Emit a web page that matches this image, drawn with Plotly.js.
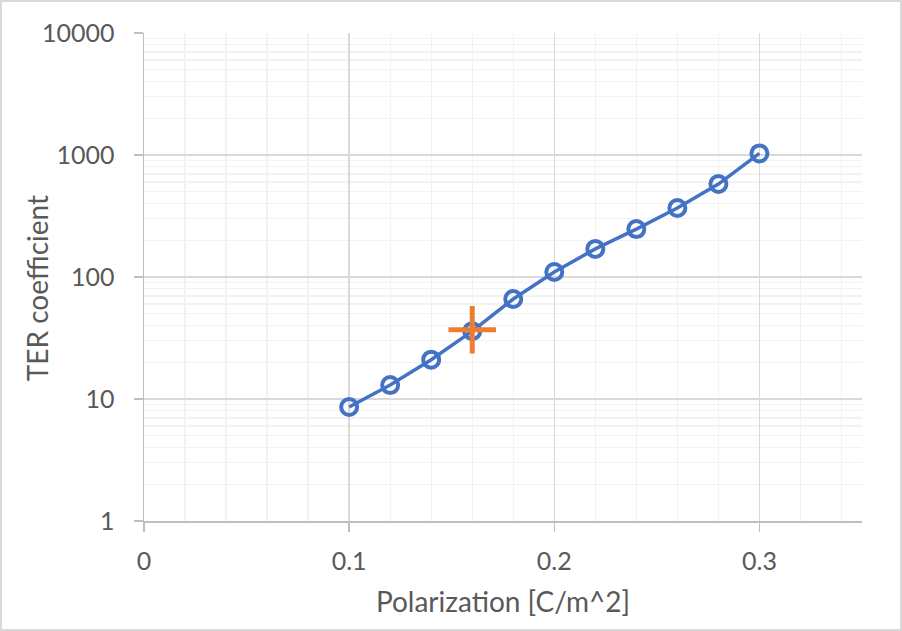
<!DOCTYPE html>
<html>
<head>
<meta charset="utf-8">
<script src="https://cdn.plot.ly/plotly-3.0.1.min.js"></script>
<style>
  html, body { margin: 0; padding: 0; background: #fff; }
  #chart { width: 902px; height: 631px; box-sizing: border-box; border: 2px solid #d9d9d9; }
</style>
</head>
<body>
<div id="chart"></div>
<script>
// TER coefficient vs polarization
const polarization = [0.10, 0.12, 0.14, 0.16, 0.18, 0.20, 0.22, 0.24, 0.26, 0.28, 0.30];
const terCoefficient = [8.6, 13.0, 21, 36, 66, 110, 170, 247, 368, 578, 1030];

// highlighted point (orange plus)
const markX = [0.16];
const markY = [37];

const yTickVals = [1, 10, 100, 1000, 10000];
const yTickText = ['1', '10', '100', '1000', '10000'];

const textColor = '#595959';
const font = 'Lato, "Open Sans", sans-serif';

const traces = [
    {
        x: polarization, y: terCoefficient,
        mode: 'lines+markers',
        line: {color: '#4472C4', width: 3.5},
        marker: {symbol: 'circle-open', size: 16, color: '#4472C4', line: {width: 4, color: '#4472C4'}},
        showlegend: false
    },
    {
        x: markX, y: markY,
        mode: 'markers',
        marker: {symbol: 'cross-thin-open', size: 34, color: '#ED7D31', line: {width: 5, color: '#ED7D31'}},
        showlegend: false
    }
];

const layout = {
    width: 898, height: 627,
    margin: {l: 142, r: 38, t: 31, b: 108},
    paper_bgcolor: '#fff',
    plot_bgcolor: '#fff',
    font: {family: font, color: textColor, size: 24},
    xaxis: {
        title: {text: 'Polarization [C/m^2]', font: {size: 28, color: textColor}, standoff: 19},
        range: [0, 0.35],
        dtick: 0.1,
        tick0: 0,
        showgrid: true, gridcolor: '#d9d9d9', gridwidth: 1.3,
        minor: {dtick: 0.02, showgrid: true, gridcolor: '#f2f2f2', gridwidth: 1.3},
        showline: true, linecolor: '#bfbfbf', linewidth: 1.5,
        ticks: 'outside', ticklen: 9, tickcolor: '#bfbfbf', tickwidth: 1.5,
        ticklabelstandoff: 8,
        zeroline: false,
        tickfont: {size: 25, color: textColor}
    },
    yaxis: {
        type: 'log',
        range: [0, 4],
        tickvals: yTickVals,
        ticktext: yTickText,
        showgrid: true, gridcolor: '#d9d9d9', gridwidth: 1.3,
        minor: {dtick: 'D1', showgrid: true, gridcolor: '#f2f2f2', gridwidth: 1.3},
        showline: true, linecolor: '#bfbfbf', linewidth: 1.5,
        ticks: 'outside', ticklen: 9, tickcolor: '#bfbfbf', tickwidth: 1.5,
        ticklabelstandoff: 14,
        zeroline: false,
        tickfont: {size: 25, color: textColor}
    },
    // y title as an annotation so it sits where the reference has it
    annotations: [{
        text: 'TER coefficient',
        xref: 'paper', yref: 'paper',
        x: -0.149, y: 0.477,
        xanchor: 'center', yanchor: 'middle',
        textangle: -90,
        showarrow: false,
        font: {size: 28, color: textColor}
    }]
};

const config = {displayModeBar: false, staticPlot: true};

Plotly.newPlot('chart', traces, layout, config);
</script>
</body>
</html>
